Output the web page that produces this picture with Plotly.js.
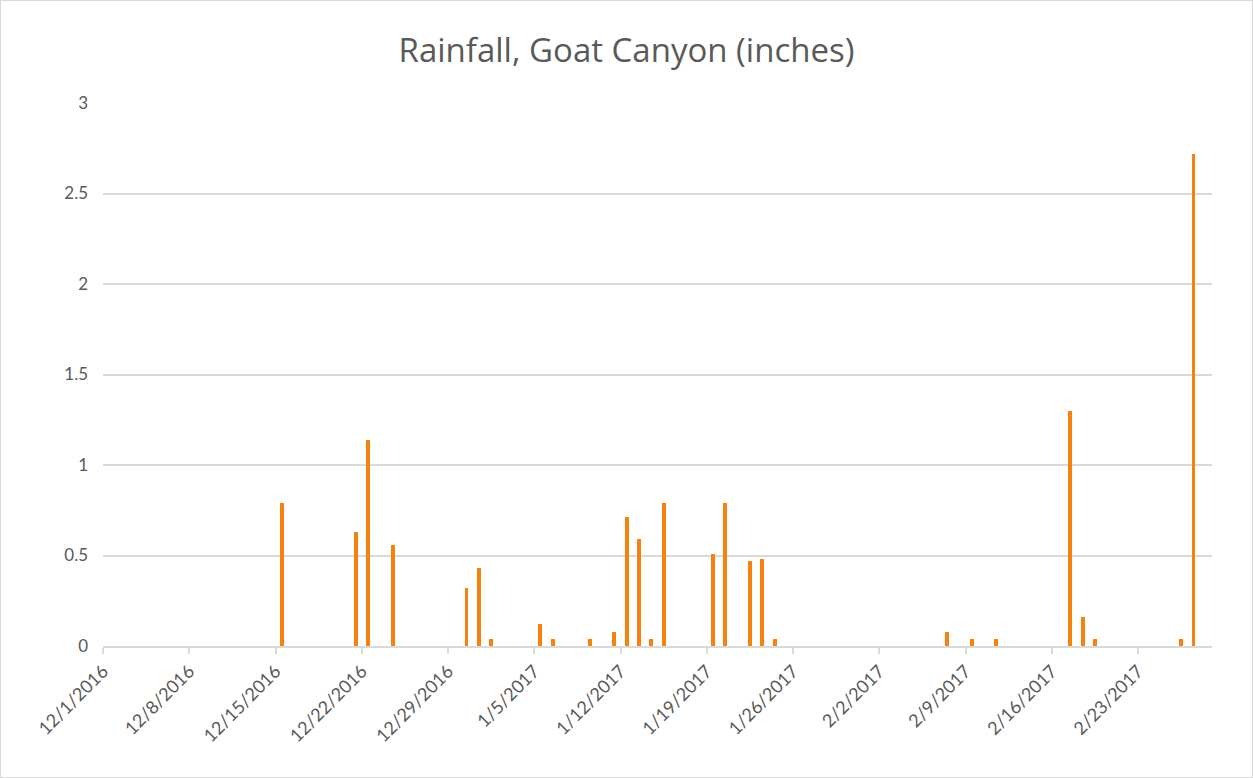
<!DOCTYPE html>
<html>
<head>
<meta charset="utf-8">
<script src="https://cdn.plot.ly/plotly-3.0.1.min.js"></script>
<style>
html,body{margin:0;padding:0;background:#fff;}
#chart{width:1251px;height:776px;border:1px solid #d9d9d9;}
</style>
</head>
<body>
<div id="chart"></div>
<script>
const dates = ["2016-12-15","2016-12-21","2016-12-22","2016-12-24","2016-12-30","2016-12-31",
  "2017-01-01","2017-01-05","2017-01-06","2017-01-09","2017-01-11","2017-01-12","2017-01-13",
  "2017-01-14","2017-01-15","2017-01-19","2017-01-20","2017-01-22","2017-01-23","2017-01-24",
  "2017-02-07","2017-02-09","2017-02-11","2017-02-17","2017-02-18","2017-02-19","2017-02-26","2017-02-27"];
const rainfall = [0.79,0.63,1.14,0.56,0.32,0.43,
  0.04,0.12,0.04,0.04,0.08,0.71,0.59,
  0.04,0.79,0.51,0.79,0.47,0.48,0.04,
  0.08,0.04,0.04,1.30,0.16,0.04,0.04,2.72];
const yTicks = [0,0.5,1,1.5,2,2.5,3];
const yTickLabels = ["0","0.5","1","1.5","2","2.5","3"];
const DAY = 86400000;

const trace = {
  type: "bar",
  x: dates,
  y: rainfall,
  xperiod: DAY,
  xperiodalignment: "middle",
  width: 0.32*DAY,
  marker: {color: "#F5820F", line: {width: 0}},
  hoverinfo: "x+y"
};

const font = "Lato, 'Open Sans', sans-serif";
const layout = {
  width: 1251, height: 776,
  margin: {l: 102, r: 40, t: 102, b: 131},
  paper_bgcolor: "#fff", plot_bgcolor: "#fff",
  title: {text: "Rainfall, Goat Canyon (inches)", x: 0.5, xanchor: "center", y: 0.936, yanchor: "middle",
          font: {family: "'Open Sans', sans-serif", size: 33, color: "#595959"}},
  xaxis: {
    type: "date",
    range: ["2016-12-01", "2017-03-01"],
    tick0: "2016-12-01",
    dtick: 7*DAY,
    tickformat: "%-m/%-d/%Y",
    tickangle: -45,
    ticks: "outside", ticklen: 6, tickcolor: "#d9d9d9", tickwidth: 1.5,
    showline: true, linecolor: "#d9d9d9", linewidth: 1.5,
    showgrid: false, zeroline: false,
    tickfont: {family: font, size: 18, color: "#595959"}
  },
  yaxis: {
    range: [0, 3],
    tickvals: yTicks,
    ticktext: yTickLabels,
    showgrid: true, gridcolor: "#d9d9d9", gridwidth: 1.5,
    zeroline: false, showline: false, ticks: "",
    ticklabelstandoff: 14,
    tickfont: {family: font, size: 17, color: "#595959"}
  },
  bargap: 0,
  showlegend: false
};

Plotly.newPlot("chart", [trace], layout, {displayModeBar: false});
</script>
</body>
</html>
